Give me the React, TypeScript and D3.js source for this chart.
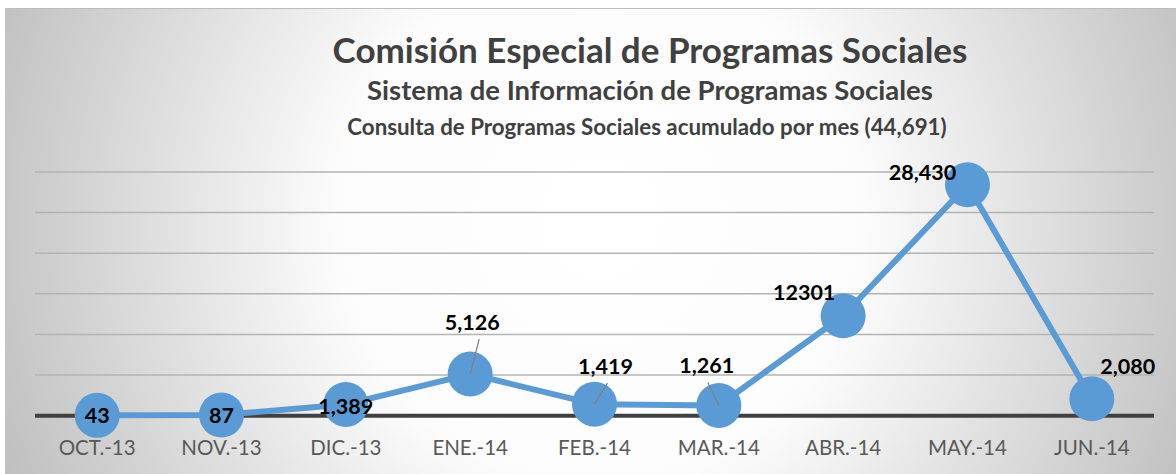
import React from 'react';
import * as d3 from 'd3';

// values
const categories = ['OCT.-13', 'NOV.-13', 'DIC.-13', 'ENE.-14', 'FEB.-14', 'MAR.-14', 'ABR.-14', 'MAY.-14', 'JUN.-14'];
const consultas = [43, 87, 1389, 5126, 1419, 1261, 12301, 28430, 2080];
const valueLabels = ['43', '87', '1,389', '5,126', '1,419', '1,261', '12301', '28,430', '2,080'];

// where each data label sits relative to its marker, and whether it gets a leader line
const labelOffsets = [[0, 0], [0, 0], [0, 2], [2, -52], [11, -38], [-12, -40], [-39, -24], [-45, -12], [36, -33]];
const hasLeader = [false, false, false, true, true, true, false, false, false];

const titles = [
	'Comisión Especial de Programas Sociales',
	'Sistema de Información de Programas Sociales',
	'Consulta de Programas Sociales acumulado por mes (44,691)',
];

const W = 1176;
const H = 474;
const FONT = 'Lato, "Open Sans", sans-serif';
const BLUE = '#5b9bd5';

const App = () => {
	const x = d3.scalePoint<string>()
		.domain(categories)
		.range([35, 1154])
		.padding(0.5);
	const y = d3.scaleLinear()
		.domain([0, 30000])
		.range([415.7, 172]);
	const grid = y.ticks(6).filter((t) => t > 0);
	const pts = consultas.map((v, i) => [x(categories[i]) as number, y(v)] as [number, number]);
	const line = d3.line()(pts) as string;

	return (
		<svg width={ W } height={ H } style={ { position: 'absolute', left: 0, top: 0 } } fontFamily={ FONT }>
			<defs>
				<radialGradient id="bg" gradientUnits="userSpaceOnUse" cx={ 600 } cy={ 220 } r={ 660 }>
					<stop offset="0" stopColor="#ffffff"/>
					<stop offset="0.4" stopColor="#fcfcfc"/>
					<stop offset="1" stopColor="#bdbdbd"/>
				</radialGradient>
			</defs>
			<rect x={ 5 } y={ 8 } width={ W - 5 } height={ H - 8 } fill="url(#bg)"/>
			<line x1={ 5 } x2={ W } y1={ 8.5 } y2={ 8.5 } stroke="#bcbcbc"/>
			<line x1={ 5.5 } x2={ 5.5 } y1={ 8 } y2={ H } stroke="#c4c4c4"/>

			<g fill="#404040" fontWeight="bold" textAnchor="middle">
				<text x={ 650 } y={ 63 } fontSize={ 35 }>{ titles[0] }</text>
				<text x={ 650 } y={ 100 } fontSize={ 27.5 }>{ titles[1] }</text>
				<text x={ 647 } y={ 135 } fontSize={ 22.3 }>{ titles[2] }</text>
			</g>

			{ grid.map((t) => (
				<line key={ t } x1={ 35 } x2={ 1154 } y1={ y(t) } y2={ y(t) } stroke="#b3b3b3" strokeWidth={ 1.5 }/>
			)) }
			<line x1={ 35 } x2={ 1154 } y1={ y(0) } y2={ y(0) } stroke="#404040" strokeWidth={ 4 }/>

			<path d={ line } fill="none" stroke={ BLUE } strokeWidth={ 6 } strokeLinejoin="round"/>
			{ pts.map(([cx, cy], i) => (
				<circle key={ categories[i] } cx={ cx } cy={ cy } r={ 22.5 } fill={ BLUE }/>
			)) }

			{ pts.map(([cx, cy], i) => hasLeader[i] && (
				<line key={ `l${ i }` }
					x1={ cx + labelOffsets[i][0] + (labelOffsets[i][0] > 5 ? 2 : labelOffsets[i][0] < -5 ? 1 : 7) }
					y1={ cy + labelOffsets[i][1] + 17 }
					x2={ cx } y2={ cy }
					stroke="#7f7f7f" strokeWidth={ 1.2 }/>
			)) }
			<g fontWeight="bold" fontSize={ 21.5 } fill="#000" textAnchor="middle">
				{ pts.map(([cx, cy], i) => (
					<text key={ `t${ i }` } x={ cx + labelOffsets[i][0] } y={ cy + labelOffsets[i][1] } dy="0.36em">
						{ valueLabels[i] }
					</text>
				)) }
			</g>

			<g fill="#595959" fontSize={ 20.5 } textAnchor="middle">
				{ categories.map((c) => (
					<text key={ c } x={ x(c) } y={ 455 }>{ c }</text>
				)) }
			</g>
		</svg>
	);
};

export default App;
